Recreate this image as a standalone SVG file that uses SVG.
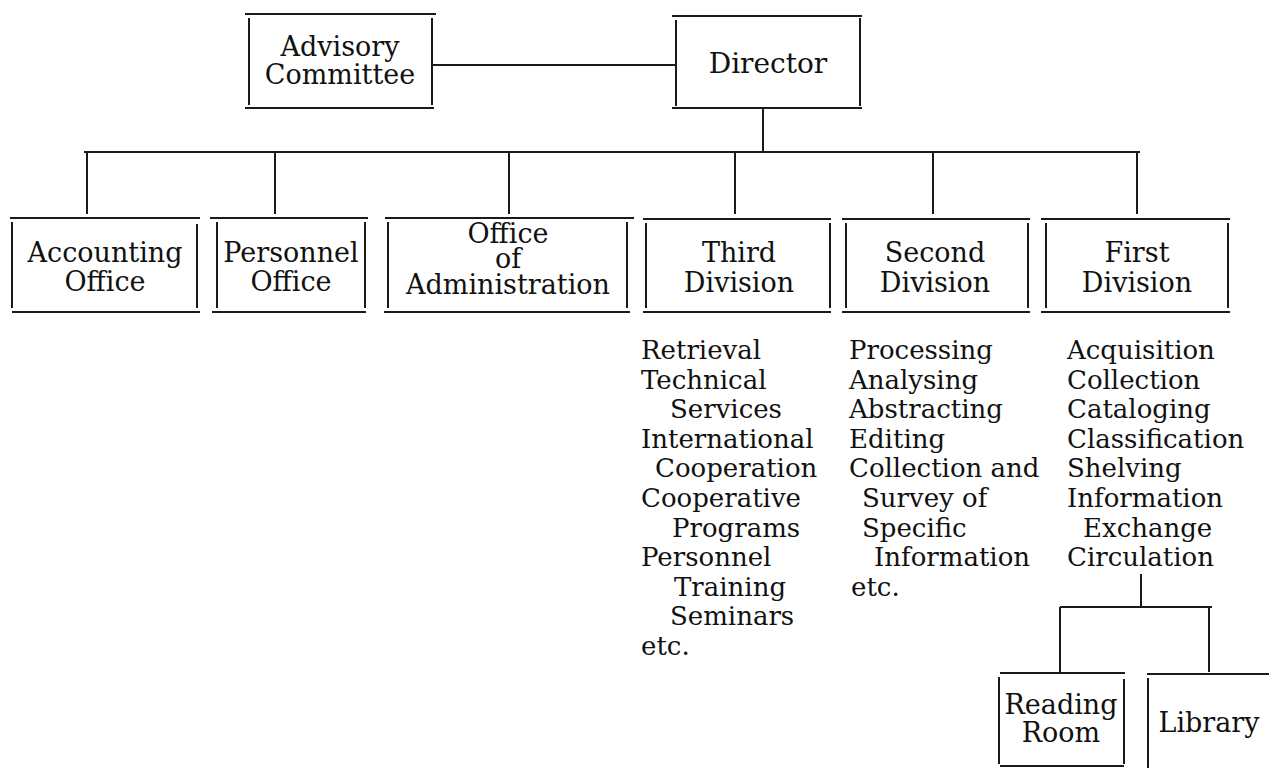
<svg xmlns="http://www.w3.org/2000/svg" width="1269" height="768" viewBox="0 0 1269 768">
<style>
.ln{stroke:#1a1a1a;stroke-width:2;fill:none;stroke-linecap:butt}
.bt{font-family:"DejaVu Serif","Liberation Serif",serif;font-size:27px;fill:#111;text-anchor:middle}
.ls{font-family:"DejaVu Serif","Liberation Serif",serif;font-size:26px;fill:#111}
</style>
<rect width="1269" height="768" fill="#fff"/>
<g id="connectors" class="ln">
<path d="M432 65H676"/>
<path d="M763 108V152"/>
<path d="M84 152H1140"/>
<path d="M87 152V214M275 152V214M509 152V214M735 152V214M933 152V214M1137 152V214"/>
<path d="M1141 574V607M1060 607H1212M1060 607V672M1209 607V672"/>
</g>
<g id="advisory">
<path class="ln" d="M245 14H436M245 108H434M249 18V105M432 18V105"/>
<text class="bt" x="340" y="56">Advisory</text>
<text class="bt" x="340" y="84">Committee</text>
</g>
<g id="director">
<path class="ln" d="M672 16H862M672 108H862M676 20V106M860 18V106"/>
<text class="bt" x="768" y="73" style="font-size:28px">Director</text>
</g>
<g id="accounting">
<path class="ln" d="M10 218H200M12 312H200M12 222V308M197 224V308"/>
<text class="bt" x="105" y="262">Accounting</text>
<text class="bt" x="105" y="291">Office</text>
</g>
<g id="personnel">
<path class="ln" d="M210 218H368M212 312H366M217 222V308M365 222V308"/>
<text class="bt" x="291" y="262">Personnel</text>
<text class="bt" x="291" y="291">Office</text>
</g>
<g id="administration">
<path class="ln" d="M385 218H634M384 312H630M388 222V308M627 222V308"/>
<text class="bt" x="508" y="243">Office</text>
<text class="bt" x="508" y="268">of</text>
<text class="bt" x="508" y="294">Administration</text>
</g>
<g id="third">
<path class="ln" d="M643 219H831M643 312H831M646 223V308M830 223V308"/>
<text class="bt" x="739" y="262">Third</text>
<text class="bt" x="739" y="292">Division</text>
</g>
<g id="second">
<path class="ln" d="M842 219H1030M842 312H1030M846 223V308M1028 223V308"/>
<text class="bt" x="935" y="262">Second</text>
<text class="bt" x="935" y="292">Division</text>
</g>
<g id="first">
<path class="ln" d="M1041 219H1230M1041 312H1230M1046 223V308M1228 223V308"/>
<text class="bt" x="1137" y="262">First</text>
<text class="bt" x="1137" y="292">Division</text>
</g>
<g id="third-list" class="ls">
<text x="641" y="359">Retrieval</text>
<text x="641" y="388.6">Technical</text>
<text x="670" y="418.2">Services</text>
<text x="641" y="447.8">International</text>
<text x="655" y="477.4">Cooperation</text>
<text x="641" y="507">Cooperative</text>
<text x="672" y="536.6">Programs</text>
<text x="641" y="566.2">Personnel</text>
<text x="674" y="595.8">Training</text>
<text x="670" y="625.4">Seminars</text>
<text x="641" y="655">etc.</text>
</g>
<g id="second-list" class="ls">
<text x="849" y="359">Processing</text>
<text x="849" y="388.6">Analysing</text>
<text x="849" y="418.2">Abstracting</text>
<text x="849" y="447.8">Editing</text>
<text x="849" y="477.4">Collection and</text>
<text x="862" y="507">Survey of</text>
<text x="862" y="536.6">Specific</text>
<text x="874" y="566.2">Information</text>
<text x="851" y="595.8">etc.</text>
</g>
<g id="first-list" class="ls">
<text x="1067" y="359">Acquisition</text>
<text x="1067" y="388.6">Collection</text>
<text x="1067" y="418.2">Cataloging</text>
<text x="1067" y="447.8">Classification</text>
<text x="1067" y="477.4">Shelving</text>
<text x="1067" y="507">Information</text>
<text x="1083" y="536.6">Exchange</text>
<text x="1067" y="566.2">Circulation</text>
</g>
<g id="reading-room">
<path class="ln" d="M1000 673H1125M1000 766H1124M999 677V764M1124 679V764"/>
<text class="bt" x="1061" y="714">Reading</text>
<text class="bt" x="1061" y="742">Room</text>
</g>
<g id="library">
<path class="ln" d="M1147 674H1269M1148 678V768"/>
<text class="bt" x="1209" y="732">Library</text>
</g>
</svg>
